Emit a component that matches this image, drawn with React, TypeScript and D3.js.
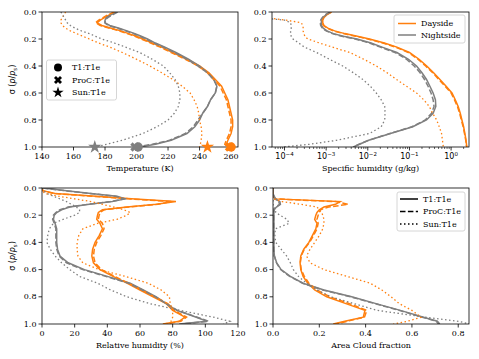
import React from "react";
import * as d3 from "d3";

// model sigma levels (p/ps) shared by every profile
const SIGMA = [0, 0.02, 0.04, 0.06, 0.08, 0.1, 0.12, 0.14, 0.16, 0.18, 0.2, 0.23, 0.26, 0.3, 0.35, 0.4, 0.45, 0.5, 0.55, 0.6, 0.65, 0.7, 0.75, 0.8, 0.85, 0.9, 0.95, 0.98, 1.0];

const CONFIGS = ["T1:T1e", "ProC:T1e", "Sun:T1e"];
const SIDES = ["Dayside", "Nightside"];

// Temperature (K)
const TEMP_T1_DAY = [186, 183, 180, 177, 175, 178, 184, 190, 195, 200, 204, 210, 216, 223, 232, 240, 246, 250, 254, 256, 258, 259, 260, 261, 261, 260, 258, 257, 259];
const TEMP_T1_NIGHT = [187, 184, 181, 180, 180, 183, 189, 194, 199, 203, 207, 212, 218, 225, 233, 240, 245, 249, 251, 250, 247, 245, 242, 240, 237, 232, 222, 212, 202];
const TEMP_PROC_DAY = [186, 182, 179, 176, 174, 177, 183, 189, 194, 199, 203, 209, 215, 222, 231, 239, 245, 249, 253, 255, 257, 258, 259, 260, 260, 259, 257, 256, 258];
const TEMP_PROC_NIGHT = [188, 185, 182, 180, 180, 182, 188, 193, 198, 202, 206, 211, 217, 224, 232, 239, 245, 249, 251, 250, 247, 245, 242, 239, 236, 231, 221, 210, 200];
const TEMP_SUN_DAY = [155, 154, 153, 152, 152, 153, 155, 158, 162, 166, 170, 176, 183, 191, 200, 208.5, 216, 223, 229, 234, 236.5, 238.5, 239.5, 240, 241, 241.5, 241, 240.5, 240];
const TEMP_SUN_NIGHT = [152, 153, 154, 155, 156, 158, 161, 165, 170, 174, 178, 186, 193, 202, 210, 217, 221, 224.5, 226.5, 227.5, 227.5, 226.5, 224, 220, 213, 204, 191, 181, 174];
// surface temperature markers [T1, ProC, Sun]
const TSURF_DAY = [260, 259, 245];
const TSURF_NIGHT = [201, 199, 173.5];

// Specific humidity (g/kg)
const QV_T1_DAY = [1.35e-3, 1.05e-3, 8.9e-4, 8.3e-4, 8.3e-4, 8.9e-4, 1.1e-3, 1.6e-3, 2.8e-3, 5.6e-3, 1.1e-2, 2.5e-2, 5e-2, 0.1, 0.17, 0.26, 0.38, 0.54, 0.76, 1.05, 1.26, 1.48, 1.66, 1.82, 2.0, 2.14, 2.29, 2.34, 2.4];
const QV_T1_NIGHT = [1.3e-3, 1.0e-3, 8.5e-4, 7.8e-4, 7.6e-4, 7.8e-4, 8.5e-4, 1.05e-3, 1.5e-3, 2.6e-3, 5.5e-3, 1.2e-2, 2.2e-2, 5e-2, 9.5e-2, 0.148, 0.2, 0.257, 0.31, 0.37, 0.42, 0.43, 0.37, 0.257, 0.12, 0.035, 0.0105, 6.3e-3, 4.5e-3];
const QV_PROC_DAY = [1.3e-3, 1.0e-3, 8.5e-4, 8.0e-4, 8.0e-4, 8.6e-4, 1.05e-3, 1.5e-3, 2.6e-3, 5.2e-3, 1.0e-2, 2.3e-2, 4.6e-2, 9.4e-2, 0.16, 0.245, 0.36, 0.51, 0.72, 1.0, 1.2, 1.42, 1.6, 1.76, 1.95, 2.1, 2.25, 2.3, 2.36];
const QV_PROC_NIGHT = [1.25e-3, 9.6e-4, 8.1e-4, 7.4e-4, 7.2e-4, 7.4e-4, 8.1e-4, 1.0e-3, 1.4e-3, 2.4e-3, 5.0e-3, 1.1e-2, 2.0e-2, 4.5e-2, 8.5e-2, 0.13, 0.18, 0.23, 0.28, 0.33, 0.37, 0.39, 0.34, 0.24, 0.115, 0.034, 0.0105, 6.2e-3, 4.4e-3];
const QV_SUN_DAY = [1e-5, 1.5e-5, 3e-5, 1.1e-4, 2.5e-4, 2.8e-4, 2.8e-4, 2.8e-4, 2.9e-4, 3.1e-4, 3.6e-4, 7e-4, 1.4e-3, 3.7e-3, 8e-3, 1.6e-2, 2.9e-2, 4.9e-2, 8.5e-2, 0.148, 0.22, 0.3, 0.36, 0.45, 0.52, 0.59, 0.62, 0.64, 0.65];
const QV_SUN_NIGHT = [1e-5, 1e-5, 2e-5, 1e-4, 1.4e-4, 1.45e-4, 1.45e-4, 1.4e-4, 1.4e-4, 1.45e-4, 1.6e-4, 2.2e-4, 3e-4, 5.9e-4, 1.2e-3, 2.5e-3, 4.5e-3, 7.6e-3, 1.15e-2, 1.6e-2, 2.1e-2, 2.55e-2, 2.6e-2, 2.55e-2, 2.1e-2, 1.1e-2, 1.8e-3, 4e-4, 9e-5];

// Relative humidity (%)
const RH_T1_DAY = [0, 0.5, 8, 33, 57, 82, 70, 52, 37, 34.5, 34, 33.5, 35.5, 37, 35, 32.5, 31, 30.5, 31.5, 35.5, 43.5, 52, 60, 68, 76, 80, 87.5, 84, 74];
const RH_T1_NIGHT = [0.5, 15, 30, 46, 51, 43, 29, 17, 12, 9, 7.5, 7, 8, 9, 9, 9, 9.5, 11, 16, 26, 40, 54, 62, 70, 76, 82.5, 94.5, 101, 84];
const RH_PROC_DAY = [0, 0.5, 7, 30, 54, 79, 71, 53, 38, 35.5, 35, 34.5, 37, 38, 36, 33.5, 32, 31.5, 32.5, 36.5, 44.5, 53, 61, 69, 77, 81, 88.5, 85, 75];
const RH_PROC_NIGHT = [0.5, 14, 29, 45, 50, 42, 28, 16, 11, 8.5, 7, 6.5, 7.5, 8.5, 8.5, 8.5, 9, 10.5, 15, 25, 39, 53, 61.5, 69.5, 76, 83, 95, 102, 85];
const RH_SUN_DAY = [0, 0.5, 1.5, 10, 20, 30, 37, 44, 50, 54, 52, 46, 34, 25, 22.5, 21.5, 21.5, 22, 25, 35, 51, 65, 73, 78, 78.5, 80, 80, 79, 80];
const RH_SUN_NIGHT = [0, 1, 3, 7, 11, 15, 18, 21, 23, 23, 20, 13, 7, 4.5, 3.5, 3, 5, 8, 12, 17, 23, 34, 42, 52, 66, 84.5, 105, 115, 111];

// Area cloud fraction
const CLD_T1_DAY = [0, 0, 0, 0, 0.01, 0.29, 0.27, 0.22, 0.2, 0.19, 0.185, 0.18, 0.19, 0.185, 0.17, 0.155, 0.133, 0.12, 0.117, 0.12, 0.13, 0.15, 0.18, 0.232, 0.315, 0.397, 0.39, 0.31, 0.26];
const CLD_T1_NIGHT = [0, 0, 0, 0.005, 0.01, 0.03, 0.032, 0.015, 0.005, 0.004, 0.004, 0.004, 0.004, 0.004, 0.004, 0.004, 0.004, 0.006, 0.016, 0.035, 0.075, 0.13, 0.22, 0.34, 0.445, 0.55, 0.65, 0.71, 0.72];
const CLD_PROC_DAY = [0, 0, 0, 0, 0.01, 0.27, 0.325, 0.24, 0.205, 0.2, 0.195, 0.19, 0.195, 0.19, 0.175, 0.158, 0.135, 0.122, 0.118, 0.122, 0.135, 0.155, 0.19, 0.245, 0.33, 0.405, 0.395, 0.32, 0.27];
const CLD_PROC_NIGHT = [0, 0, 0, 0.004, 0.01, 0.025, 0.028, 0.012, 0.004, 0.003, 0.003, 0.003, 0.003, 0.003, 0.003, 0.003, 0.004, 0.006, 0.015, 0.033, 0.072, 0.128, 0.215, 0.335, 0.44, 0.545, 0.645, 0.705, 0.715];
const CLD_SUN_DAY = [0, 0, 0, 0, 0, 0.04, 0.12, 0.19, 0.2, 0.21, 0.215, 0.22, 0.22, 0.215, 0.2, 0.18, 0.16, 0.145, 0.16, 0.22, 0.32, 0.42, 0.47, 0.51, 0.545, 0.6, 0.64, 0.58, 0.52];
const CLD_SUN_NIGHT = [0, 0, 0, 0, 0, 0, 0, 0, 0.01, 0.012, 0.03, 0.06, 0.07, 0.01, 0.008, 0.012, 0.035, 0.059, 0.075, 0.088, 0.11, 0.145, 0.19, 0.25, 0.35, 0.45, 0.66, 0.8, 0.85];

const SIGMA_TICKS = [0, 0.2, 0.4, 0.6, 0.8, 1.0];
const TEMP_TICKS = [140, 160, 180, 200, 220, 240, 260];
const QV_TICKS = [1e-4, 1e-3, 1e-2, 1e-1, 1];
const RH_TICKS = [0, 20, 40, 60, 80, 100, 120];
const CLD_TICKS = [0, 0.2, 0.4, 0.6, 0.8];

const ORANGE = "#ff7f0e";
const GRAY = "#7f7f7f";
const FONT = "DejaVu Serif";
const DASHES = ["none", "5.5,2.4", "1.5,2.5"];

type Box = { x0: number; x1: number; y0: number; y1: number };

const build = (sets: number[][]) =>
  sets.map((values, i) => ({
    values,
    color: i % 2 === 0 ? ORANGE : GRAY,
    dash: DASHES[Math.floor(i / 2)],
    width: i >= 4 ? 1.3 : 1.5,
  }));

function Panel({ id, box, x, sets, ticks, tickLabel, xLabel, yLabel, minor, children }: any) {
  const y = d3.scaleLinear([0, 1], [box.y0, box.y1]);
  const series = build(sets);
  const line = d3
    .line<number>()
    .x((v) => x(v))
    .y((_, i) => y(SIGMA[i]));
  return (
    <g>
      <defs>
        <clipPath id={id}>
          <rect x={box.x0} y={box.y0} width={box.x1 - box.x0} height={box.y1 - box.y0} />
        </clipPath>
      </defs>
      <g clipPath={`url(#${id})`}>
        {series.map((s, i) => (
          <path key={i} d={line(s.values) || ""} fill="none" stroke={s.color} strokeWidth={s.width} strokeDasharray={s.dash} />
        ))}
      </g>
      <rect x={box.x0} y={box.y0} width={box.x1 - box.x0} height={box.y1 - box.y0} fill="none" stroke="#000" strokeWidth={0.8} />
      {minor &&
        minor.map((t: number, i: number) => (
          <line key={"m" + i} x1={x(t)} x2={x(t)} y1={box.y1} y2={box.y1 + 2} stroke="#000" strokeWidth={0.6} />
        ))}
      {ticks.map((t: number, i: number) => (
        <g key={"x" + i}>
          <line x1={x(t)} x2={x(t)} y1={box.y1} y2={box.y1 + 3.5} stroke="#000" strokeWidth={0.8} />
          <text x={x(t)} y={box.y1 + 12} textAnchor="middle" fontSize={8} fontFamily={FONT}>
            {tickLabel(t)}
          </text>
        </g>
      ))}
      {SIGMA_TICKS.map((t, i) => (
        <g key={"y" + i}>
          <line x1={box.x0 - 3.5} x2={box.x0} y1={y(t)} y2={y(t)} stroke="#000" strokeWidth={0.8} />
          <text x={box.x0 - 5.5} y={y(t)} dy="0.33em" textAnchor="end" fontSize={8} fontFamily={FONT}>
            {d3.format(".1f")(t)}
          </text>
        </g>
      ))}
      <text x={(box.x0 + box.x1) / 2} y={box.y1 + 24} textAnchor="middle" fontSize={8} fontFamily={FONT}>
        {xLabel}
      </text>
      {yLabel && (
        <text transform={`translate(15,${(box.y0 + box.y1) / 2}) rotate(-90)`} textAnchor="middle" fontSize={8} fontFamily="DejaVu Sans">
          σ (<tspan fontStyle="italic">p</tspan>/<tspan fontStyle="italic">p</tspan>
          <tspan fontSize={5.5} dy="2">s</tspan>
          <tspan dy="-2">)</tspan>
        </text>
      )}
      {children}
    </g>
  );
}

const SYMBOLS = [d3.symbolCircle, d3.symbolCross, d3.symbolStar];
const symbolPath = (i: number, size: number) => d3.symbol(SYMBOLS[i], size)() || "";

export default function App() {
  const p1: Box = { x0: 42, x1: 238, y0: 12, y1: 147 };
  const p2: Box = { x0: 272, x1: 469, y0: 12, y1: 147 };
  const p3: Box = { x0: 42, x1: 238, y0: 188, y1: 324 };
  const p4: Box = { x0: 273, x1: 469, y0: 188, y1: 324 };

  const tempX = d3.scaleLinear([140, 264.4], [p1.x0, p1.x1]);
  const qX = d3.scaleLog([10 ** -4.3, 10 ** 0.43], [p2.x0, p2.x1]);
  const rhX = d3.scaleLinear([0, 120], [p3.x0, p3.x1]);
  const cldX = d3.scaleLinear([0, 0.8465], [p4.x0, p4.x1]);

  const qMinor = qX.ticks().filter((t) => Math.abs(Math.log10(t) - Math.round(Math.log10(t))) > 1e-6);

  // draw X and star first, circles on top
  const markerOrder = [1, 2, 0];

  return (
    <svg width={479} height={359} style={{ position: "absolute", left: 0, top: 0, background: "#fff" }}>
      <Panel
        id="c1"
        box={p1}
        x={tempX}
        sets={[TEMP_T1_DAY, TEMP_T1_NIGHT, TEMP_PROC_DAY, TEMP_PROC_NIGHT, TEMP_SUN_DAY, TEMP_SUN_NIGHT]}
        ticks={TEMP_TICKS}
        tickLabel={(t: number) => t}
        xLabel="Temperature (K)"
        yLabel
      >
        {markerOrder.map((i) => (
          <g key={"s" + i}>
            <path d={symbolPath(i, i === 0 ? 70 : 55)} transform={`translate(${tempX(TSURF_DAY[i])},${p1.y1})${i === 1 ? " rotate(45)" : ""}`} fill={ORANGE} />
            <path d={symbolPath(i, i === 0 ? 70 : 55)} transform={`translate(${tempX(TSURF_NIGHT[i])},${p1.y1})${i === 1 ? " rotate(45)" : ""}`} fill={GRAY} />
          </g>
        ))}
        <rect x={46.5} y={60} width={70} height={40} rx={2} fill="#fff" fillOpacity={0.8} stroke="#ccc" strokeWidth={0.8} />
        {CONFIGS.map((c, i) => (
          <g key={c}>
            <path d={symbolPath(i, i === 0 ? 50 : 40)} transform={`translate(58,${67.5 + i * 12.5})${i === 1 ? " rotate(45)" : ""}`} fill="#000" />
            <text x={72} y={67.5 + i * 12.5} dy="0.33em" fontSize={8} fontFamily={FONT}>
              {c}
            </text>
          </g>
        ))}
      </Panel>

      <Panel
        id="c2"
        box={p2}
        x={qX}
        sets={[QV_T1_DAY, QV_T1_NIGHT, QV_PROC_DAY, QV_PROC_NIGHT, QV_SUN_DAY, QV_SUN_NIGHT]}
        ticks={QV_TICKS}
        minor={qMinor}
        tickLabel={(t: number) => (
          <tspan fontFamily="DejaVu Sans">
            10
            <tspan fontSize={5.5} dy="-3.5">
              {Math.round(Math.log10(t)) < 0 ? "−" + Math.abs(Math.round(Math.log10(t))) : Math.round(Math.log10(t))}
            </tspan>
          </tspan>
        )}
        xLabel="Specific humidity (g/kg)"
      >
        <rect x={394} y={15} width={71} height={28} rx={2} fill="#fff" fillOpacity={0.8} stroke="#ccc" strokeWidth={0.8} />
        {SIDES.map((s, i) => (
          <g key={s}>
            <line x1={398} x2={416} y1={23.5 + i * 11.5} y2={23.5 + i * 11.5} stroke={i === 0 ? ORANGE : GRAY} strokeWidth={1.5} />
            <text x={421} y={23.5 + i * 11.5} dy="0.33em" fontSize={8} fontFamily={FONT}>
              {s}
            </text>
          </g>
        ))}
      </Panel>

      <Panel
        id="c3"
        box={p3}
        x={rhX}
        sets={[RH_T1_DAY, RH_T1_NIGHT, RH_PROC_DAY, RH_PROC_NIGHT, RH_SUN_DAY, RH_SUN_NIGHT]}
        ticks={RH_TICKS}
        tickLabel={(t: number) => t}
        xLabel="Relative humidity (%)"
        yLabel
      />

      <Panel
        id="c4"
        box={p4}
        x={cldX}
        sets={[CLD_T1_DAY, CLD_T1_NIGHT, CLD_PROC_DAY, CLD_PROC_NIGHT, CLD_SUN_DAY, CLD_SUN_NIGHT]}
        ticks={CLD_TICKS}
        tickLabel={(t: number) => d3.format(".1f")(t)}
        xLabel="Area Cloud fraction"
      >
        <rect x={397} y={192} width={68} height={39} rx={2} fill="#fff" fillOpacity={0.8} stroke="#ccc" strokeWidth={0.8} />
        {CONFIGS.map((c, i) => (
          <g key={c}>
            <line x1={400} x2={418} y1={199 + i * 12.5} y2={199 + i * 12.5} stroke="#000" strokeWidth={i === 2 ? 1.3 : 1.5} strokeDasharray={DASHES[i]} />
            <text x={423} y={199 + i * 12.5} dy="0.33em" fontSize={8} fontFamily={FONT}>
              {c}
            </text>
          </g>
        ))}
      </Panel>
    </svg>
  );
}
